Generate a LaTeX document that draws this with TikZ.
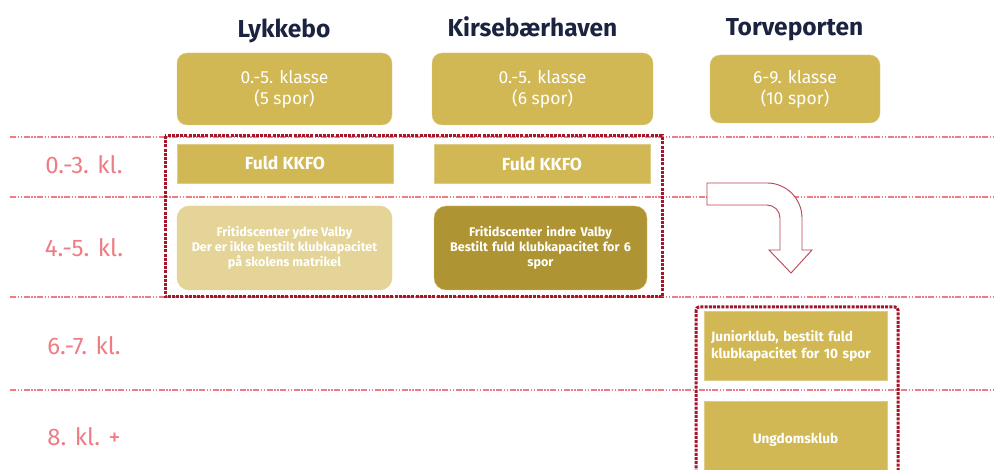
\documentclass[tikz,border=0pt]{standalone}
\usepackage{fontspec}
\setmainfont{Fira Sans}
\usetikzlibrary{positioning}
\definecolor{gold}{HTML}{D1B854}
\definecolor{lightgold}{HTML}{E4D498}
\definecolor{darkgold}{HTML}{AE9432}
\definecolor{wine}{HTML}{A5162B}
\definecolor{salmon}{HTML}{EF7C84}
\definecolor{navy}{HTML}{1B2340}
\tikzset{
  header/.style={text=navy, anchor=base, font=\fontsize{24.5}{28}\selectfont\bfseries},
  rowlabel/.style={text=salmon, font=\fontsize{24}{28}\selectfont},
  rowline/.style={salmon, line width=1.4pt, dash pattern=on 6pt off 1.5pt on 1.5pt off 1.5pt on 1.5pt off 1.5pt},
  wineframe/.style={wine, line width=3pt, dash pattern=on 3pt off 1.2pt},
  goldbox/.style={fill=gold, draw=gold!70!white, text=white, align=center, inner sep=0pt},
  topbox/.style={goldbox, rounded corners=10pt, font=\fontsize{17.5}{21}\selectfont},
  kkfo/.style={goldbox, font=\fontsize{17.5}{20}\selectfont\bfseries},
  small/.style={font=\fontsize{12.6}{15}\selectfont\bfseries},
  club/.style={font=\fontsize{13.6}{17}\selectfont\bfseries}
}
\begin{document}
\begin{tikzpicture}[x=1pt, y=-1pt]
  \useasboundingbox (0,0) rectangle (994,470);
  \clip (0,0) rectangle (994,470);
  \foreach \y in {137,197,297,390}
    \draw[rowline] (10,\y) -- (994,\y);
  \node[header] (lykke) at (284,38) {Lykkebo};
  \node[header] (kirse) at (532.5,37) {Kirsebærhaven};
  \node[header] (torve) at (794.5,36) {Torveporten};
  \node[topbox, minimum width=215pt, minimum height=72pt] (lykketop) at (284.5,89) {0.-5. klasse\\(5 spor)};
  \node[topbox, minimum width=221pt, minimum height=72pt] (kirsetop) at (542.5,89) {0.-5. klasse\\(6 spor)};
  \node[topbox, minimum width=170pt, minimum height=68pt] (torvetop) at (795,89) {6-9. klasse\\(10 spor)};
  \node[rowlabel] (r03) at (84,165) {0.-3. kl.};
  \node[rowlabel] (r45) at (84,248) {4.-5. kl.};
  \node[rowlabel] (r67) at (84,346) {6.-7. kl.};
  \node[rowlabel] (r8) at (84,437) {8. kl. +};
  \node[kkfo, minimum width=216pt, minimum height=39pt] (lykkekkfo) at (285,163.5) {Fuld KKFO};
  \node[kkfo, minimum width=216pt, minimum height=39pt] (kirsekkfo) at (542,164) {Fuld KKFO};
  \node[goldbox, small, fill=lightgold, draw=gold!60!white, rounded corners=12pt, minimum width=215pt, minimum height=84pt] (ydre) at (284.5,248) {Fritidscenter ydre Valby\\Der er ikke bestilt klubkapacitet\\på skolens matrikel};
  \node[goldbox, small, fill=darkgold, draw=gold!80!white, rounded corners=12pt, minimum width=213pt, minimum height=84pt, text width=200pt] (indre) at (540.5,248) {Fritidscenter indre Valby\\Bestilt fuld klubkapacitet for 6\\spor};
  \draw[wineframe] (165,136) rectangle (662,297);
  \draw[wine!80!white, line width=0.9pt, fill=white] (707,183) -- (767,183) arc(-90:0:35) -- (802,250) -- (812,250) -- (791,273) -- (769,250) -- (780,250) -- (780,218) arc(0:-90:13) -- (707,205) -- cycle;
  \node[goldbox, club, align=left, minimum width=183pt, minimum height=69pt, text width=169pt] (junior) at (795.5,345.5) {Juniorklub, bestilt fuld\\klubkapacitet for 10 spor};
  \node[goldbox, club, minimum width=183pt, minimum height=78pt] (ungdom) at (795.5,440) {Ungdomsklub};
  \draw[wineframe, rounded corners=3pt] (696,307) rectangle (898,484);
\end{tikzpicture}
\end{document}
